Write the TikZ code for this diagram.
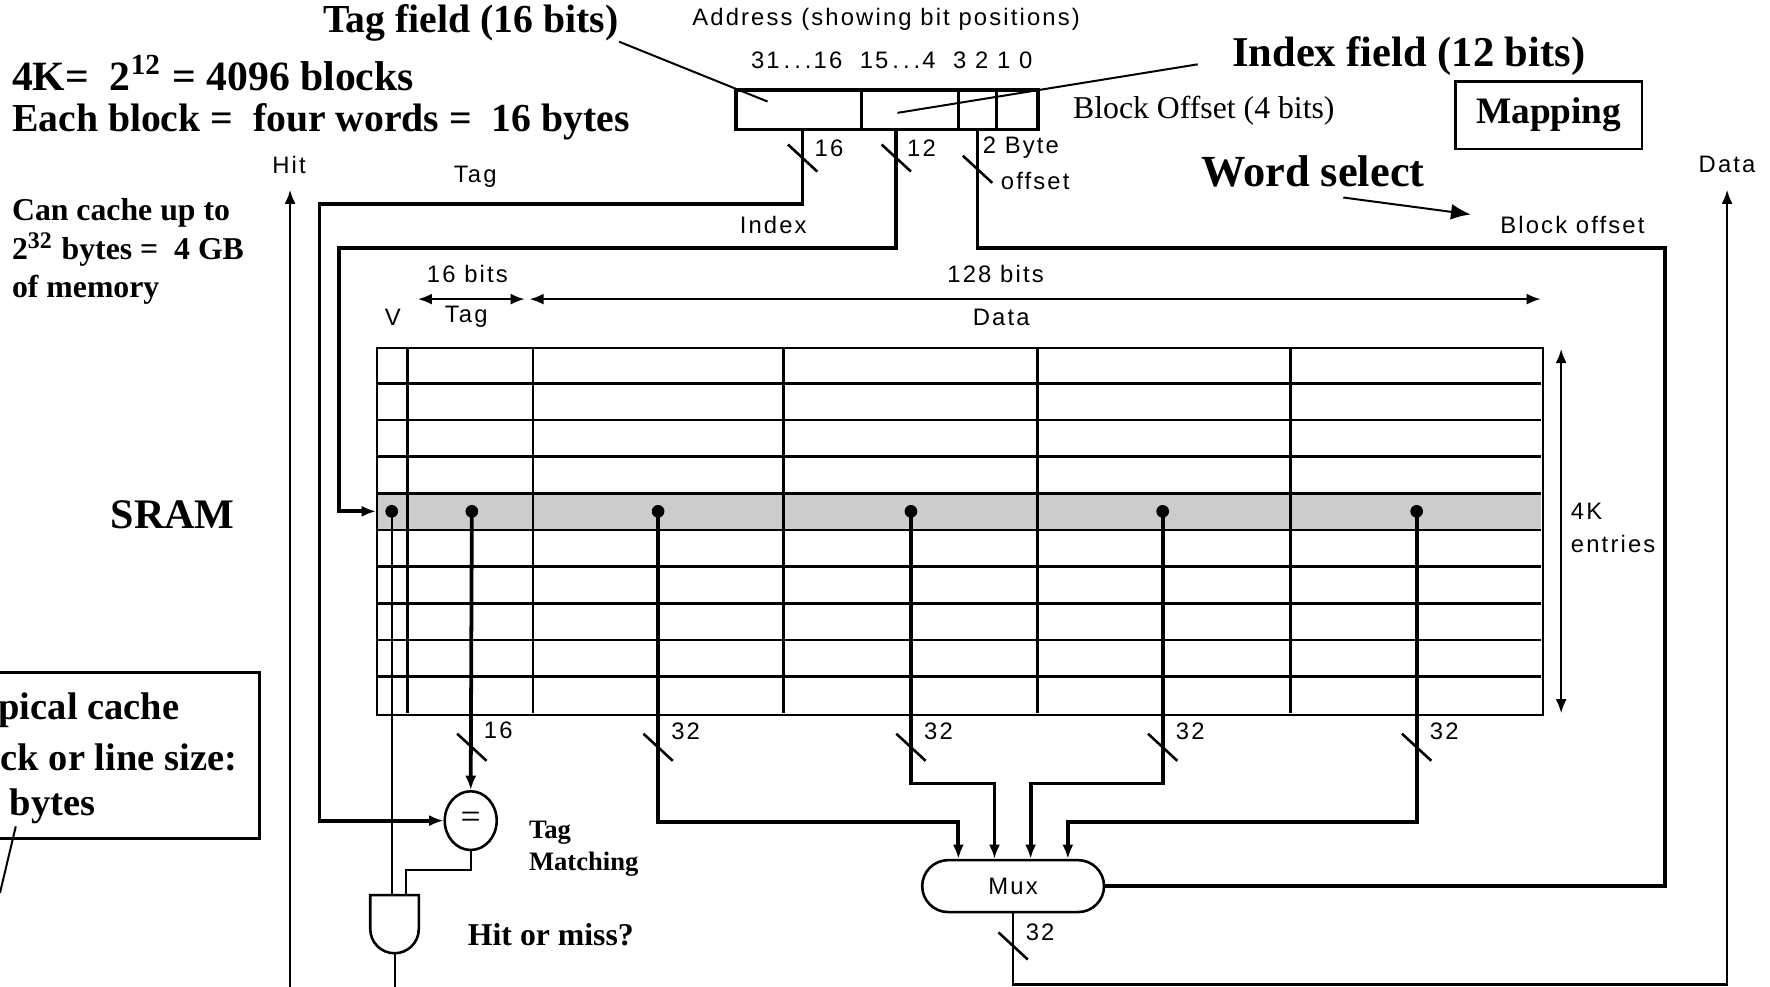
\documentclass[tikz,border=0pt]{standalone}
\usepackage{fontspec}
\setmainfont{Liberation Serif}
\newfontfamily\lblfont[LetterSpace=9]{Liberation Sans}
\usepackage{tikz}
\usetikzlibrary{arrows.meta, positioning, calc, shapes.geometric}

\tikzset{
  wire/.style={line width=0.95pt},
  medwire/.style={line width=0.65pt},
  thinwire/.style={line width=0.5pt},
  lbl/.style={font=\lblfont\fontsize{6}{7}\selectfont, inner sep=0pt},
  big/.style={font=\fontsize{10}{12}\selectfont\bfseries, inner sep=0pt},
  note/.style={font=\fontsize{8}{9.7}\selectfont\bfseries, inner sep=0pt},
}

\begin{document}
\begin{tikzpicture}[x=0.01cm, y=-0.01cm, >={Latex[length=3.6pt,width=2.8pt]}]
    \useasboundingbox (0,0) rectangle (1568,874);

    % Headings
    \node[big] (tagfield) at (417,20) {Tag field (16 bits)};
    \node[big, anchor=west, font=\fontsize{10.5}{12}\selectfont\bfseries] (blocks) at (10,65) {4K=\ \ 2\textsuperscript{12} = 4096 blocks};
    \node[big, anchor=west] (words) at (10,108) {Each block =\ \ four words =\ \ 16 bytes};
    \node[big, font=\fontsize{10.7}{13}\selectfont\bfseries] (indexfield) at (1248,50) {Index field (12 bits)};
    \node[note, anchor=west, align=left] (capacity) at (10,223) {Can cache up to\\2\textsuperscript{32} bytes =\ \ 4 GB\\of memory};
    \node[font=\fontsize{10.6}{13}\selectfont\bfseries] (sram) at (153,456) {SRAM};

    % The address
    \node[lbl] (addrlbl) at (785,17) {Address (showing bit positions)};
    \node[lbl] (bitpos) at (790,53) {31\,.\,.\,.16\ \ 15\,.\,.\,.4\ \ 3 2 1 0};
    \node[draw, wire, anchor=north west, minimum width=2.68cm, minimum height=0.35cm, inner sep=0pt] (addr) at (650,78) {};
    \foreach \x in {763,849,883}
        \draw[medwire] (\x,78) -- (\x,113);
    \draw[thinwire] (tagfield.south east) -- (680,90);
    \draw[thinwire] ($(indexfield.west)+(-30,7)$) -- (795,100);
    \node[font=\fontsize{8}{10}\selectfont, anchor=west, inner sep=0pt] (offsetlbl) at (950,98) {Block Offset (4 bits)};
    \node[draw, medwire, minimum width=1.65cm, minimum height=0.6cm, font=\fontsize{9.4}{11}\selectfont\bfseries] (mapping) at (1372,102) {Mapping};
    \node[font=\fontsize{11.2}{14}\selectfont\bfseries, inner sep=0pt] (wordsel) at (1163,152) {Word select};
    \draw[thinwire, -{Latex[length=5pt,width=4pt]}] (1190,175) -- (1303,190);

    % Wire labels
    \node[lbl] at (421,157) {Tag};
    \node[lbl] at (685,199) {Index};
    \node[lbl] at (1393,199) {Block offset};
    \node[lbl] at (256,146) {Hit};
    \node[lbl] at (1530,146) {Data};
    \node[lbl, anchor=west] at (721,131) {16};
    \node[lbl, anchor=west] at (803,131) {12};
    \node[lbl, anchor=west] at (870,131) {2 Byte};
    \node[lbl, anchor=west] at (886,160) {offset};

    % The SRAM table
    \fill[gray!40] (333,437) rectangle (1365,469.5);
    \foreach \r in {1,...,9}
        \draw[medwire] (333,307+32.5*\r) -- (1365,307+32.5*\r);
    \foreach \x in {361,472,694,919,1143}
        \draw[medwire] (\x,307) -- (\x,632);
    \node[draw, medwire, anchor=north west, minimum width=10.32cm, minimum height=3.25cm, inner sep=0pt] (tbl) at (333,307) {};

    \node[lbl] at (414,243) {16 bits};
    \node[lbl] at (882,243) {128 bits};
    \draw[medwire, <->] (370,265) -- (465,265);
    \draw[medwire, <->] (469,265) -- (1365,265);
    \node[lbl] at (348,281) {V};
    \node[lbl] at (413,281) {Tag};
    \node[lbl] at (887,281) {Data};
    \draw[medwire, <->] (1383,309) -- (1383,632);
    \node[lbl, anchor=west] at (1391,453) {4K};
    \node[lbl, anchor=west] at (1391,482) {entries};

    % Comparator, gate and mux
    \node[draw, medwire, ellipse, minimum width=0.46cm, minimum height=0.52cm, inner sep=0pt, font=\fontsize{9}{10}\selectfont] (cmp) at (417,727) {=};
    \node[font=\fontsize{6.7}{8}\selectfont\bfseries, align=left, anchor=west, inner sep=0pt] (tagmatch) at (468,752) {Tag\\Matching};
    \draw[medwire] (328,793) -- (371,793) -- (371,823) arc[start angle=0, end angle=180, radius=21.5] -- cycle;
    \coordinate (andout) at (349.5,844.5);
    \node[font=\fontsize{8}{10}\selectfont\bfseries] (hitmiss) at (488,828) {Hit or miss?};
    \node[draw, medwire, rounded corners=0.23cm, minimum width=1.61cm, minimum height=0.46cm, lbl] (mux) at (897.5,785) {Mux};

    % Address wires
    \draw[wire, ->] (711,113) |- (283,181) |- (cmp.west);
    \draw[wire, ->] (794,113) |- (300,220) |- (tbl.west |- 0,453);
    \draw[wire] (866,113) |- (1475,220) |- (mux.east);

    % Row outputs
    \foreach \x in {347,418,583,807,1030,1255}
        \fill (\x,453) circle (1.6pt);
    \draw[thinwire] (347,453) -- (347,793);
    \draw[wire, ->] (418,453) -- (cmp.north);
    \draw[wire, ->] (583,453) |- (849,728) -- (849,0 |- mux.north);
    \draw[wire, ->] (807,453) |- (881,694) -- (881,0 |- mux.north);
    \draw[wire, ->] (1030,453) |- (913,694) -- (913,0 |- mux.north);
    \draw[wire, ->] (1255,453) |- (946,728) -- (946,0 |- mux.north);
    \draw[thinwire] (cmp.south) |- (360,771) -- (360,793);

    % Outputs
    \draw[thinwire] (andout) -- (349.5,874);
    \draw[medwire, ->] (257,874) -- (257,168);
    \draw[medwire, ->] (mux.south) |- (1530,872) -- (1530,168);

    % Bus widths
    \foreach \x/\y in {711/140, 794/140, 866/150, 418/662, 583/662, 807/662, 1030/662, 1255/662, 897.5/838}
        \draw[medwire] (\x-13,\y-12) -- (\x+13,\y+12);
    \node[lbl, anchor=west] at (428,647) {16};
    \foreach \x in {583,807,1030,1255}
        \node[lbl, anchor=west] at (\x+11,648) {32};
    \node[lbl, anchor=west] at (908,826) {32};

    % Typical block size (cut at the left)
    \draw[medwire] (0,596) -- (230,596) -- (230,743) -- (0,743);
    \node[big, anchor=west, font=\fontsize{9.7}{12}\selectfont\bfseries] at (-2,629) {pical cache};
    \node[big, anchor=west, font=\fontsize{9.7}{12}\selectfont\bfseries] at (0,671) {ck or line size:};
    \node[big, anchor=west, font=\fontsize{9.7}{12}\selectfont\bfseries] at (8,714) {bytes};
    \draw[thinwire] (14,732) -- (0,791);
\end{tikzpicture}
\end{document}
